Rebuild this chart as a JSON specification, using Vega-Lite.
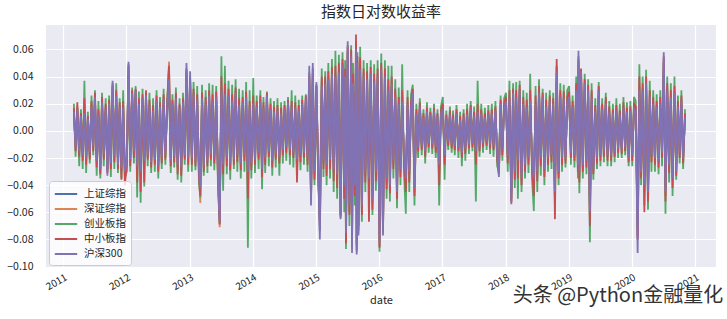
{
"$schema":"https://vega.github.io/schema/vega-lite/v6.json",
"width":670,"height":243,
"autosize":{"type":"none"},
"padding":{"left":46,"top":25,"right":11,"bottom":51},
"background":"white",
"config":{"font":"Noto Sans CJK SC","view":{"fill":"#EAEAF2","stroke":null},
"axis":{"grid":true,"gridColor":"#FFFFFF","gridWidth":1.2,"domain":false,"ticks":false,"tickSize":0,"labelColor":"#262626","titleColor":"#262626","labelFont":"Noto Sans CJK SC","titleFont":"Noto Sans CJK SC","titleFontWeight":"normal","labelOverlap":false}},
"title":{"text":"指数日对数收益率","fontSize":15,"fontWeight":"normal","color":"#262626","font":"Noto Sans CJK SC","offset":5},
"layer":[
{"data":{"values":[
{"d":"2011-03-03","a":0.012,"b":0.015,"c":0.02,"e":0.017,"f":0.014},
{"d":"2011-03-13","a":-0.01,"b":-0.013,"c":-0.019,"e":-0.015,"f":-0.012},
{"d":"2011-03-23","a":0.014,"b":0.017,"c":0.018,"e":0.021,"f":0.016},
{"d":"2011-04-03","a":-0.013,"b":-0.016,"c":-0.026,"e":-0.019,"f":-0.015},
{"d":"2011-04-13","a":0.009,"b":0.012,"c":0.016,"e":0.013,"f":0.011},
{"d":"2011-04-23","a":-0.015,"b":-0.019,"c":-0.028,"e":-0.022,"f":-0.018},
{"d":"2011-05-03","a":0.011,"b":0.02,"c":0.037,"e":0.024,"f":0.013},
{"d":"2011-05-13","a":-0.017,"b":-0.022,"c":-0.031,"e":-0.025,"f":-0.02},
{"d":"2011-05-23","a":0.008,"b":0.01,"c":0.014,"e":0.011,"f":0.009},
{"d":"2011-06-03","a":-0.014,"b":-0.018,"c":-0.024,"e":-0.021,"f":-0.016},
{"d":"2011-06-13","a":0.015,"b":0.02,"c":0.026,"e":0.022,"f":0.018},
{"d":"2011-06-23","a":-0.009,"b":-0.012,"c":-0.018,"e":-0.015,"f":-0.011},
{"d":"2011-07-03","a":0.021,"b":0.026,"c":0.03,"e":0.028,"f":0.025},
{"d":"2011-07-13","a":-0.019,"b":-0.024,"c":-0.033,"e":-0.027,"f":-0.022},
{"d":"2011-07-23","a":0.01,"b":0.014,"c":0.022,"e":0.016,"f":0.012},
{"d":"2011-08-03","a":-0.025,"b":-0.03,"c":-0.035,"e":-0.032,"f":-0.028},
{"d":"2011-08-13","a":0.018,"b":0.023,"c":0.028,"e":0.025,"f":0.021},
{"d":"2011-08-23","a":-0.015,"b":-0.019,"c":-0.026,"e":-0.021,"f":-0.017},
{"d":"2011-09-03","a":0.014,"b":0.018,"c":0.024,"e":0.02,"f":0.016},
{"d":"2011-09-13","a":-0.028,"b":-0.03,"c":-0.029,"e":-0.031,"f":-0.033},
{"d":"2011-09-23","a":0.017,"b":0.021,"c":0.026,"e":0.023,"f":0.02},
{"d":"2011-10-03","a":-0.021,"b":-0.026,"c":-0.034,"e":-0.028,"f":-0.024},
{"d":"2011-10-13","a":0.032,"b":0.034,"c":0.033,"e":0.035,"f":0.037},
{"d":"2011-10-23","a":-0.016,"b":-0.021,"c":-0.028,"e":-0.023,"f":-0.019},
{"d":"2011-11-03","a":0.022,"b":0.028,"c":0.035,"e":0.03,"f":0.026},
{"d":"2011-11-13","a":-0.021,"b":-0.026,"c":-0.031,"e":-0.028,"f":-0.025},
{"d":"2011-11-23","a":0.015,"b":0.019,"c":0.024,"e":0.021,"f":0.018},
{"d":"2011-12-03","a":-0.023,"b":-0.03,"c":-0.035,"e":-0.036,"f":-0.027},
{"d":"2011-12-13","a":0.014,"b":0.019,"c":0.03,"e":0.022,"f":0.017},
{"d":"2011-12-23","a":-0.026,"b":-0.033,"c":-0.034,"e":-0.04,"f":-0.03},
{"d":"2012-01-03","a":-0.019,"b":-0.023,"c":-0.03,"e":-0.026,"f":-0.022},
{"d":"2012-01-13","a":0.042,"b":0.048,"c":0.047,"e":0.049,"f":0.051},
{"d":"2012-01-23","a":-0.018,"b":-0.023,"c":-0.03,"e":-0.026,"f":-0.021},
{"d":"2012-02-03","a":0.024,"b":0.029,"c":0.032,"e":0.03,"f":0.028},
{"d":"2012-02-13","a":-0.013,"b":-0.017,"c":-0.024,"e":-0.02,"f":-0.015},
{"d":"2012-02-23","a":0.026,"b":0.03,"c":0.033,"e":0.031,"f":0.03},
{"d":"2012-03-03","a":-0.022,"b":-0.03,"c":-0.049,"e":-0.038,"f":-0.026},
{"d":"2012-03-13","a":0.017,"b":0.021,"c":0.029,"e":0.024,"f":0.02},
{"d":"2012-03-23","a":-0.026,"b":-0.034,"c":-0.053,"e":-0.045,"f":-0.03},
{"d":"2012-04-03","a":0.02,"b":0.025,"c":0.031,"e":0.027,"f":0.024},
{"d":"2012-04-13","a":-0.019,"b":-0.025,"c":-0.041,"e":-0.038,"f":-0.022},
{"d":"2012-04-23","a":0.022,"b":0.027,"c":0.028,"e":0.03,"f":0.026},
{"d":"2012-05-03","a":-0.015,"b":-0.019,"c":-0.026,"e":-0.021,"f":-0.018},
{"d":"2012-05-13","a":0.016,"b":0.02,"c":0.028,"e":0.023,"f":0.019},
{"d":"2012-05-23","a":-0.02,"b":-0.024,"c":-0.031,"e":-0.027,"f":-0.023},
{"d":"2012-06-03","a":0.013,"b":0.016,"c":0.024,"e":0.019,"f":0.015},
{"d":"2012-06-13","a":-0.018,"b":-0.022,"c":-0.03,"e":-0.025,"f":-0.021},
{"d":"2012-06-23","a":0.019,"b":0.023,"c":0.03,"e":0.026,"f":0.022},
{"d":"2012-07-03","a":-0.022,"b":-0.028,"c":-0.035,"e":-0.03,"f":-0.026},
{"d":"2012-07-13","a":0.015,"b":0.019,"c":0.025,"e":0.021,"f":0.018},
{"d":"2012-07-23","a":-0.017,"b":-0.021,"c":-0.028,"e":-0.024,"f":-0.02},
{"d":"2012-08-03","a":0.02,"b":0.025,"c":0.031,"e":0.027,"f":0.024},
{"d":"2012-08-13","a":-0.014,"b":-0.018,"c":-0.025,"e":-0.021,"f":-0.017},
{"d":"2012-08-23","a":0.013,"b":0.016,"c":0.022,"e":0.018,"f":0.015},
{"d":"2012-09-03","a":0.034,"b":0.051,"c":0.046,"e":0.048,"f":0.038},
{"d":"2012-09-13","a":-0.019,"b":-0.023,"c":-0.031,"e":-0.026,"f":-0.022},
{"d":"2012-09-23","a":0.017,"b":0.021,"c":0.027,"e":0.023,"f":0.02},
{"d":"2012-10-03","a":-0.016,"b":-0.02,"c":-0.027,"e":-0.023,"f":-0.019},
{"d":"2012-10-13","a":0.02,"b":0.025,"c":0.032,"e":0.028,"f":0.024},
{"d":"2012-10-23","a":-0.021,"b":-0.027,"c":-0.036,"e":-0.032,"f":-0.025},
{"d":"2012-11-03","a":0.014,"b":0.018,"c":0.024,"e":0.02,"f":0.017},
{"d":"2012-11-13","a":-0.023,"b":-0.029,"c":-0.038,"e":-0.033,"f":-0.027},
{"d":"2012-11-23","a":0.018,"b":0.022,"c":0.028,"e":0.024,"f":0.021},
{"d":"2012-12-03","a":-0.015,"b":-0.019,"c":-0.025,"e":-0.021,"f":-0.018},
{"d":"2012-12-13","a":0.043,"b":0.045,"c":0.044,"e":0.046,"f":0.05},
{"d":"2012-12-23","a":-0.017,"b":-0.021,"c":-0.03,"e":-0.025,"f":-0.02},
{"d":"2013-01-03","a":0.037,"b":0.039,"c":0.038,"e":0.04,"f":0.044},
{"d":"2013-01-13","a":-0.017,"b":-0.021,"c":-0.03,"e":-0.025,"f":-0.02},
{"d":"2013-01-23","a":0.023,"b":0.028,"c":0.036,"e":0.031,"f":0.027},
{"d":"2013-02-03","a":-0.019,"b":-0.023,"c":-0.029,"e":-0.026,"f":-0.022},
{"d":"2013-02-13","a":0.019,"b":0.024,"c":0.033,"e":0.027,"f":0.023},
{"d":"2013-02-23","a":-0.024,"b":-0.03,"c":-0.037,"e":-0.033,"f":-0.028},
{"d":"2013-03-03","a":-0.036,"b":-0.053,"c":-0.049,"e":-0.048,"f":-0.042},
{"d":"2013-03-13","a":0.02,"b":0.025,"c":0.034,"e":0.028,"f":0.024},
{"d":"2013-03-23","a":-0.022,"b":-0.027,"c":-0.033,"e":-0.03,"f":-0.026},
{"d":"2013-04-03","a":0.017,"b":0.021,"c":0.03,"e":0.025,"f":0.02},
{"d":"2013-04-13","a":-0.019,"b":-0.023,"c":-0.031,"e":-0.026,"f":-0.022},
{"d":"2013-04-23","a":0.022,"b":0.027,"c":0.035,"e":0.03,"f":0.026},
{"d":"2013-05-03","a":-0.014,"b":-0.018,"c":-0.026,"e":-0.021,"f":-0.017},
{"d":"2013-05-13","a":0.019,"b":0.023,"c":0.034,"e":0.027,"f":0.022},
{"d":"2013-05-23","a":-0.017,"b":-0.021,"c":-0.029,"e":-0.024,"f":-0.02},
{"d":"2013-06-03","a":0.021,"b":0.026,"c":0.033,"e":0.029,"f":0.025},
{"d":"2013-06-13","a":-0.027,"b":-0.033,"c":-0.04,"e":-0.036,"f":-0.031},
{"d":"2013-06-23","a":-0.053,"b":-0.071,"c":-0.068,"e":-0.069,"f":-0.067},
{"d":"2013-07-03","a":0.026,"b":0.032,"c":0.055,"e":0.04,"f":0.03},
{"d":"2013-07-13","a":-0.021,"b":-0.027,"c":-0.044,"e":-0.032,"f":-0.025},
{"d":"2013-07-23","a":0.023,"b":0.029,"c":0.048,"e":0.035,"f":0.027},
{"d":"2013-08-03","a":-0.017,"b":-0.021,"c":-0.032,"e":-0.026,"f":-0.02},
{"d":"2013-08-13","a":0.022,"b":0.027,"c":0.037,"e":0.031,"f":0.026},
{"d":"2013-08-23","a":-0.02,"b":-0.025,"c":-0.036,"e":-0.029,"f":-0.024},
{"d":"2013-09-03","a":0.019,"b":0.023,"c":0.034,"e":0.027,"f":0.022},
{"d":"2013-09-13","a":-0.018,"b":-0.022,"c":-0.028,"e":-0.025,"f":-0.021},
{"d":"2013-09-23","a":0.024,"b":0.029,"c":0.038,"e":0.032,"f":0.028},
{"d":"2013-10-03","a":-0.015,"b":-0.019,"c":-0.03,"e":-0.023,"f":-0.018},
{"d":"2013-10-13","a":0.016,"b":0.02,"c":0.031,"e":0.024,"f":0.019},
{"d":"2013-10-23","a":-0.02,"b":-0.025,"c":-0.035,"e":-0.029,"f":-0.024},
{"d":"2013-11-03","a":0.018,"b":0.022,"c":0.03,"e":0.025,"f":0.021},
{"d":"2013-11-13","a":-0.014,"b":-0.018,"c":-0.03,"e":-0.022,"f":-0.017},
{"d":"2013-11-23","a":0.021,"b":0.026,"c":0.036,"e":0.029,"f":0.025},
{"d":"2013-12-03","a":-0.025,"b":-0.036,"c":-0.086,"e":-0.05,"f":-0.03},
{"d":"2013-12-13","a":0.015,"b":0.019,"c":0.03,"e":0.022,"f":0.018},
{"d":"2013-12-23","a":-0.02,"b":-0.025,"c":-0.035,"e":-0.029,"f":-0.024},
{"d":"2014-01-03","a":0.017,"b":0.021,"c":0.039,"e":0.026,"f":0.02},
{"d":"2014-01-13","a":-0.018,"b":-0.022,"c":-0.031,"e":-0.025,"f":-0.021},
{"d":"2014-01-23","a":0.015,"b":0.019,"c":0.026,"e":0.022,"f":0.018},
{"d":"2014-02-03","a":-0.014,"b":-0.017,"c":-0.028,"e":-0.021,"f":-0.016},
{"d":"2014-02-13","a":0.019,"b":0.023,"c":0.03,"e":0.026,"f":0.022},
{"d":"2014-02-23","a":-0.024,"b":-0.03,"c":-0.043,"e":-0.034,"f":-0.028},
{"d":"2014-03-03","a":0.014,"b":0.018,"c":0.025,"e":0.021,"f":0.017},
{"d":"2014-03-13","a":-0.017,"b":-0.021,"c":-0.031,"e":-0.025,"f":-0.02},
{"d":"2014-03-23","a":0.022,"b":0.027,"c":0.029,"e":0.028,"f":0.026},
{"d":"2014-04-03","a":-0.013,"b":-0.016,"c":-0.026,"e":-0.019,"f":-0.015},
{"d":"2014-04-13","a":0.014,"b":0.017,"c":0.024,"e":0.02,"f":0.016},
{"d":"2014-04-23","a":-0.019,"b":-0.023,"c":-0.033,"e":-0.027,"f":-0.022},
{"d":"2014-05-03","a":0.012,"b":0.015,"c":0.022,"e":0.018,"f":0.014},
{"d":"2014-05-13","a":-0.014,"b":-0.018,"c":-0.027,"e":-0.021,"f":-0.017},
{"d":"2014-05-23","a":0.013,"b":0.016,"c":0.024,"e":0.019,"f":0.015},
{"d":"2014-06-03","a":-0.016,"b":-0.02,"c":-0.033,"e":-0.024,"f":-0.019},
{"d":"2014-06-13","a":0.011,"b":0.014,"c":0.021,"e":0.017,"f":0.013},
{"d":"2014-06-23","a":-0.012,"b":-0.015,"c":-0.024,"e":-0.018,"f":-0.014},
{"d":"2014-07-03","a":0.014,"b":0.017,"c":0.022,"e":0.019,"f":0.016},
{"d":"2014-07-13","a":-0.01,"b":-0.013,"c":-0.022,"e":-0.016,"f":-0.012},
{"d":"2014-07-23","a":0.018,"b":0.022,"c":0.025,"e":0.023,"f":0.021},
{"d":"2014-08-03","a":-0.012,"b":-0.015,"c":-0.025,"e":-0.018,"f":-0.014},
{"d":"2014-08-13","a":0.015,"b":0.019,"c":0.03,"e":0.022,"f":0.018},
{"d":"2014-08-23","a":-0.014,"b":-0.017,"c":-0.027,"e":-0.02,"f":-0.016},
{"d":"2014-09-03","a":0.014,"b":0.018,"c":0.026,"e":0.021,"f":0.017},
{"d":"2014-09-13","a":-0.018,"b":-0.024,"c":-0.032,"e":-0.038,"f":-0.021},
{"d":"2014-09-23","a":0.013,"b":0.016,"c":0.023,"e":0.019,"f":0.015},
{"d":"2014-10-03","a":-0.015,"b":-0.019,"c":-0.029,"e":-0.023,"f":-0.018},
{"d":"2014-10-13","a":0.017,"b":0.021,"c":0.026,"e":0.023,"f":0.02},
{"d":"2014-10-23","a":-0.014,"b":-0.017,"c":-0.025,"e":-0.02,"f":-0.016},
{"d":"2014-11-03","a":0.021,"b":0.025,"c":0.027,"e":0.026,"f":0.024},
{"d":"2014-11-13","a":-0.017,"b":-0.021,"c":-0.03,"e":-0.025,"f":-0.02},
{"d":"2014-11-23","a":0.043,"b":0.042,"c":0.036,"e":0.04,"f":0.048},
{"d":"2014-12-03","a":-0.051,"b":-0.052,"c":-0.047,"e":-0.05,"f":-0.055},
{"d":"2014-12-13","a":0.046,"b":0.044,"c":0.038,"e":0.042,"f":0.05},
{"d":"2014-12-23","a":-0.026,"b":-0.032,"c":-0.04,"e":-0.036,"f":-0.03},
{"d":"2015-01-03","a":0.033,"b":0.034,"c":0.033,"e":0.034,"f":0.036},
{"d":"2015-01-13","a":-0.022,"b":-0.027,"c":-0.036,"e":-0.03,"f":-0.025},
{"d":"2015-01-23","a":-0.074,"b":-0.07,"c":-0.062,"e":-0.066,"f":-0.08},
{"d":"2015-02-03","a":0.03,"b":0.036,"c":0.046,"e":0.04,"f":0.033},
{"d":"2015-02-13","a":-0.019,"b":-0.024,"c":-0.034,"e":-0.028,"f":-0.022},
{"d":"2015-02-23","a":0.031,"b":0.037,"c":0.044,"e":0.04,"f":0.035},
{"d":"2015-03-03","a":-0.022,"b":-0.028,"c":-0.04,"e":-0.033,"f":-0.025},
{"d":"2015-03-13","a":0.034,"b":0.04,"c":0.05,"e":0.044,"f":0.038},
{"d":"2015-03-23","a":-0.018,"b":-0.023,"c":-0.035,"e":-0.028,"f":-0.021},
{"d":"2015-04-03","a":0.038,"b":0.044,"c":0.053,"e":0.047,"f":0.042},
{"d":"2015-04-13","a":-0.025,"b":-0.031,"c":-0.045,"e":-0.037,"f":-0.028},
{"d":"2015-04-23","a":0.036,"b":0.043,"c":0.059,"e":0.048,"f":0.04},
{"d":"2015-05-03","a":-0.029,"b":-0.035,"c":-0.05,"e":-0.042,"f":-0.032},
{"d":"2015-05-13","a":0.039,"b":0.046,"c":0.056,"e":0.05,"f":0.043},
{"d":"2015-05-23","a":-0.062,"b":-0.064,"c":-0.062,"e":-0.063,"f":-0.065},
{"d":"2015-06-03","a":0.044,"b":0.05,"c":0.058,"e":0.053,"f":0.048},
{"d":"2015-06-13","a":-0.036,"b":-0.045,"c":-0.06,"e":-0.05,"f":-0.04},
{"d":"2015-06-18","a":0.036,"b":0.042,"c":0.052,"e":0.046,"f":0.04},
{"d":"2015-06-23","a":-0.07,"b":-0.08,"c":-0.087,"e":-0.083,"f":-0.075},
{"d":"2015-07-03","a":0.058,"b":0.062,"c":0.06,"e":0.063,"f":0.066},
{"d":"2015-07-13","a":-0.05,"b":-0.06,"c":-0.07,"e":-0.062,"f":-0.055},
{"d":"2015-07-23","a":0.05,"b":0.058,"c":0.063,"e":0.06,"f":0.055},
{"d":"2015-07-28","a":-0.085,"b":-0.087,"c":-0.082,"e":-0.085,"f":-0.09},
{"d":"2015-08-03","a":0.031,"b":0.038,"c":0.05,"e":0.042,"f":0.035},
{"d":"2015-08-13","a":-0.036,"b":-0.044,"c":-0.055,"e":-0.048,"f":-0.04},
{"d":"2015-08-20","a":0.055,"b":0.066,"c":0.065,"e":0.071,"f":0.06},
{"d":"2015-08-24","a":-0.083,"b":-0.089,"c":-0.085,"e":-0.088,"f":-0.091},
{"d":"2015-08-28","a":0.046,"b":0.052,"c":0.058,"e":0.055,"f":0.05},
{"d":"2015-09-03","a":-0.07,"b":-0.075,"c":-0.07,"e":-0.073,"f":-0.077},
{"d":"2015-09-13","a":0.04,"b":0.048,"c":0.062,"e":0.054,"f":0.045},
{"d":"2015-09-23","a":-0.05,"b":-0.058,"c":-0.067,"e":-0.062,"f":-0.055},
{"d":"2015-10-03","a":0.036,"b":0.043,"c":0.052,"e":0.046,"f":0.04},
{"d":"2015-10-13","a":-0.027,"b":-0.033,"c":-0.045,"e":-0.038,"f":-0.03},
{"d":"2015-10-23","a":0.034,"b":0.04,"c":0.05,"e":0.044,"f":0.038},
{"d":"2015-11-03","a":-0.031,"b":-0.04,"c":-0.05,"e":-0.067,"f":-0.035},
{"d":"2015-11-13","a":0.038,"b":0.044,"c":0.052,"e":0.047,"f":0.042},
{"d":"2015-11-23","a":-0.046,"b":-0.054,"c":-0.062,"e":-0.058,"f":-0.05},
{"d":"2015-12-03","a":0.032,"b":0.038,"c":0.049,"e":0.042,"f":0.036},
{"d":"2015-12-13","a":-0.027,"b":-0.032,"c":-0.044,"e":-0.037,"f":-0.03},
{"d":"2015-12-23","a":0.036,"b":0.042,"c":0.052,"e":0.046,"f":0.04},
{"d":"2016-01-03","a":-0.075,"b":-0.085,"c":-0.089,"e":-0.086,"f":-0.082},
{"d":"2016-01-13","a":0.04,"b":0.047,"c":0.057,"e":0.05,"f":0.045},
{"d":"2016-01-23","a":-0.07,"b":-0.075,"c":-0.072,"e":-0.074,"f":-0.077},
{"d":"2016-02-03","a":0.036,"b":0.042,"c":0.052,"e":0.046,"f":0.04},
{"d":"2016-02-13","a":-0.031,"b":-0.038,"c":-0.05,"e":-0.043,"f":-0.035},
{"d":"2016-02-23","a":0.027,"b":0.033,"c":0.048,"e":0.038,"f":0.03},
{"d":"2016-03-03","a":-0.036,"b":-0.042,"c":-0.052,"e":-0.046,"f":-0.04},
{"d":"2016-03-13","a":0.031,"b":0.037,"c":0.048,"e":0.04,"f":0.035},
{"d":"2016-03-23","a":-0.019,"b":-0.024,"c":-0.035,"e":-0.028,"f":-0.022},
{"d":"2016-04-03","a":0.022,"b":0.027,"c":0.038,"e":0.031,"f":0.025},
{"d":"2016-04-13","a":-0.04,"b":-0.047,"c":-0.057,"e":-0.05,"f":-0.045},
{"d":"2016-04-23","a":0.017,"b":0.021,"c":0.032,"e":0.025,"f":0.02},
{"d":"2016-05-03","a":-0.025,"b":-0.03,"c":-0.04,"e":-0.034,"f":-0.028},
{"d":"2016-05-13","a":0.019,"b":0.024,"c":0.049,"e":0.03,"f":0.022},
{"d":"2016-05-23","a":-0.015,"b":-0.019,"c":-0.03,"e":-0.023,"f":-0.018},
{"d":"2016-06-03","a":-0.031,"b":-0.038,"c":-0.061,"e":-0.045,"f":-0.035},
{"d":"2016-06-13","a":0.017,"b":0.021,"c":0.03,"e":0.025,"f":0.02},
{"d":"2016-06-23","a":-0.026,"b":-0.032,"c":-0.045,"e":-0.038,"f":-0.03},
{"d":"2016-07-03","a":0.014,"b":0.018,"c":0.027,"e":0.021,"f":0.017},
{"d":"2016-07-13","a":0.024,"b":0.029,"c":0.034,"e":0.031,"f":0.028},
{"d":"2016-07-23","a":-0.037,"b":-0.045,"c":-0.055,"e":-0.048,"f":-0.042},
{"d":"2016-08-03","a":0.011,"b":0.014,"c":0.02,"e":0.016,"f":0.013},
{"d":"2016-08-13","a":-0.01,"b":-0.013,"c":-0.02,"e":-0.015,"f":-0.012},
{"d":"2016-08-23","a":0.015,"b":0.019,"c":0.024,"e":0.021,"f":0.018},
{"d":"2016-09-03","a":-0.009,"b":-0.012,"c":-0.018,"e":-0.014,"f":-0.011},
{"d":"2016-09-13","a":0.008,"b":0.011,"c":0.016,"e":0.013,"f":0.01},
{"d":"2016-09-23","a":-0.013,"b":-0.016,"c":-0.024,"e":-0.019,"f":-0.015},
{"d":"2016-10-03","a":0.012,"b":0.015,"c":0.021,"e":0.017,"f":0.014},
{"d":"2016-10-13","a":-0.008,"b":-0.01,"c":-0.016,"e":-0.012,"f":-0.009},
{"d":"2016-10-23","a":0.01,"b":0.013,"c":0.017,"e":0.014,"f":0.012},
{"d":"2016-11-03","a":-0.008,"b":-0.011,"c":-0.017,"e":-0.013,"f":-0.01},
{"d":"2016-11-13","a":0.013,"b":0.016,"c":0.02,"e":0.017,"f":0.015},
{"d":"2016-11-23","a":-0.01,"b":-0.013,"c":-0.02,"e":-0.016,"f":-0.012},
{"d":"2016-12-03","a":0.009,"b":0.012,"c":0.016,"e":0.013,"f":0.011},
{"d":"2016-12-13","a":-0.021,"b":-0.03,"c":-0.055,"e":-0.04,"f":-0.025},
{"d":"2016-12-23","a":0.01,"b":0.013,"c":0.018,"e":0.015,"f":0.012},
{"d":"2017-01-03","a":0.014,"b":0.017,"c":0.025,"e":0.02,"f":0.016},
{"d":"2017-01-13","a":-0.015,"b":-0.02,"c":-0.036,"e":-0.025,"f":-0.018},
{"d":"2017-01-23","a":0.008,"b":0.011,"c":0.015,"e":0.012,"f":0.01},
{"d":"2017-02-03","a":-0.007,"b":-0.009,"c":-0.014,"e":-0.011,"f":-0.008},
{"d":"2017-02-13","a":0.01,"b":0.013,"c":0.018,"e":0.015,"f":0.012},
{"d":"2017-02-23","a":-0.008,"b":-0.011,"c":-0.016,"e":-0.013,"f":-0.01},
{"d":"2017-03-03","a":0.008,"b":0.01,"c":0.015,"e":0.012,"f":0.009},
{"d":"2017-03-13","a":-0.009,"b":-0.012,"c":-0.018,"e":-0.014,"f":-0.011},
{"d":"2017-03-23","a":0.011,"b":0.014,"c":0.019,"e":0.016,"f":0.013},
{"d":"2017-04-03","a":-0.01,"b":-0.013,"c":-0.02,"e":-0.015,"f":-0.012},
{"d":"2017-04-13","a":0.007,"b":0.009,"c":0.014,"e":0.011,"f":0.008},
{"d":"2017-04-23","a":-0.014,"b":-0.017,"c":-0.026,"e":-0.02,"f":-0.016},
{"d":"2017-05-03","a":0.008,"b":0.011,"c":0.016,"e":0.013,"f":0.01},
{"d":"2017-05-13","a":-0.011,"b":-0.014,"c":-0.022,"e":-0.017,"f":-0.013},
{"d":"2017-05-23","a":0.01,"b":0.013,"c":0.02,"e":0.016,"f":0.012},
{"d":"2017-06-03","a":-0.008,"b":-0.011,"c":-0.017,"e":-0.013,"f":-0.01},
{"d":"2017-06-13","a":0.014,"b":0.017,"c":0.022,"e":0.019,"f":0.016},
{"d":"2017-06-23","a":-0.008,"b":-0.01,"c":-0.015,"e":-0.012,"f":-0.009},
{"d":"2017-07-03","a":0.009,"b":0.012,"c":0.018,"e":0.014,"f":0.011},
{"d":"2017-07-13","a":-0.013,"b":-0.018,"c":-0.052,"e":-0.025,"f":-0.015},
{"d":"2017-07-23","a":0.012,"b":0.016,"c":0.037,"e":0.02,"f":0.014},
{"d":"2017-08-03","a":-0.01,"b":-0.013,"c":-0.019,"e":-0.015,"f":-0.012},
{"d":"2017-08-13","a":0.011,"b":0.014,"c":0.02,"e":0.016,"f":0.013},
{"d":"2017-08-23","a":-0.008,"b":-0.01,"c":-0.016,"e":-0.012,"f":-0.009},
{"d":"2017-09-03","a":0.008,"b":0.011,"c":0.017,"e":0.013,"f":0.01},
{"d":"2017-09-13","a":-0.007,"b":-0.009,"c":-0.014,"e":-0.011,"f":-0.008},
{"d":"2017-09-23","a":0.01,"b":0.013,"c":0.019,"e":0.015,"f":0.012},
{"d":"2017-10-03","a":-0.008,"b":-0.011,"c":-0.017,"e":-0.013,"f":-0.01},
{"d":"2017-10-13","a":0.011,"b":0.014,"c":0.02,"e":0.016,"f":0.013},
{"d":"2017-10-23","a":-0.009,"b":-0.012,"c":-0.019,"e":-0.014,"f":-0.011},
{"d":"2017-11-03","a":0.013,"b":0.016,"c":0.022,"e":0.018,"f":0.015},
{"d":"2017-11-13","a":-0.014,"b":-0.018,"c":-0.026,"e":-0.021,"f":-0.017},
{"d":"2017-11-23","a":-0.025,"b":-0.031,"c":-0.03,"e":-0.032,"f":-0.034},
{"d":"2017-12-03","a":0.017,"b":0.021,"c":0.026,"e":0.023,"f":0.02},
{"d":"2017-12-13","a":-0.012,"b":-0.015,"c":-0.022,"e":-0.018,"f":-0.014},
{"d":"2017-12-23","a":0.013,"b":0.017,"c":0.024,"e":0.02,"f":0.016},
{"d":"2018-01-03","a":0.018,"b":0.023,"c":0.028,"e":0.025,"f":0.022},
{"d":"2018-01-13","a":-0.016,"b":-0.02,"c":-0.03,"e":-0.024,"f":-0.019},
{"d":"2018-01-23","a":0.02,"b":0.025,"c":0.037,"e":0.03,"f":0.024},
{"d":"2018-02-03","a":-0.045,"b":-0.053,"c":-0.05,"e":-0.052,"f":-0.054},
{"d":"2018-02-13","a":0.024,"b":0.029,"c":0.035,"e":0.031,"f":0.028},
{"d":"2018-02-23","a":-0.026,"b":-0.032,"c":-0.042,"e":-0.036,"f":-0.03},
{"d":"2018-03-03","a":0.021,"b":0.026,"c":0.036,"e":0.03,"f":0.025},
{"d":"2018-03-13","a":-0.019,"b":-0.025,"c":-0.05,"e":-0.035,"f":-0.022},
{"d":"2018-03-23","a":0.026,"b":0.031,"c":0.037,"e":0.034,"f":0.03},
{"d":"2018-04-03","a":-0.03,"b":-0.037,"c":-0.045,"e":-0.04,"f":-0.035},
{"d":"2018-04-13","a":0.017,"b":0.021,"c":0.03,"e":0.025,"f":0.02},
{"d":"2018-04-23","a":-0.021,"b":-0.027,"c":-0.035,"e":-0.03,"f":-0.025},
{"d":"2018-05-03","a":0.015,"b":0.019,"c":0.028,"e":0.023,"f":0.018},
{"d":"2018-05-13","a":-0.017,"b":-0.021,"c":-0.031,"e":-0.025,"f":-0.02},
{"d":"2018-05-23","a":0.018,"b":0.023,"c":0.042,"e":0.03,"f":0.022},
{"d":"2018-06-03","a":-0.021,"b":-0.026,"c":-0.036,"e":-0.03,"f":-0.024},
{"d":"2018-06-13","a":-0.03,"b":-0.04,"c":-0.059,"e":-0.048,"f":-0.035},
{"d":"2018-06-23","a":0.017,"b":0.021,"c":0.033,"e":0.026,"f":0.02},
{"d":"2018-07-03","a":-0.026,"b":-0.032,"c":-0.045,"e":-0.037,"f":-0.03},
{"d":"2018-07-13","a":0.024,"b":0.03,"c":0.038,"e":0.033,"f":0.028},
{"d":"2018-07-23","a":-0.017,"b":-0.022,"c":-0.033,"e":-0.026,"f":-0.02},
{"d":"2018-08-03","a":0.021,"b":0.026,"c":0.031,"e":0.028,"f":0.025},
{"d":"2018-08-13","a":-0.024,"b":-0.03,"c":-0.04,"e":-0.034,"f":-0.028},
{"d":"2018-08-23","a":0.015,"b":0.019,"c":0.028,"e":0.023,"f":0.018},
{"d":"2018-09-03","a":-0.017,"b":-0.021,"c":-0.03,"e":-0.025,"f":-0.02},
{"d":"2018-09-13","a":0.019,"b":0.023,"c":0.03,"e":0.026,"f":0.022},
{"d":"2018-09-23","a":-0.015,"b":-0.019,"c":-0.028,"e":-0.023,"f":-0.018},
{"d":"2018-10-03","a":0.017,"b":0.021,"c":0.028,"e":0.024,"f":0.02},
{"d":"2018-10-13","a":-0.04,"b":-0.05,"c":-0.055,"e":-0.065,"f":-0.045},
{"d":"2018-10-23","a":0.037,"b":0.047,"c":0.048,"e":0.053,"f":0.043},
{"d":"2018-11-03","a":-0.026,"b":-0.032,"c":-0.04,"e":-0.035,"f":-0.03},
{"d":"2018-11-13","a":0.021,"b":0.027,"c":0.035,"e":0.03,"f":0.025},
{"d":"2018-11-23","a":-0.017,"b":-0.021,"c":-0.03,"e":-0.025,"f":-0.02},
{"d":"2018-12-03","a":0.02,"b":0.025,"c":0.034,"e":0.029,"f":0.024},
{"d":"2018-12-13","a":-0.017,"b":-0.021,"c":-0.027,"e":-0.024,"f":-0.02},
{"d":"2018-12-23","a":0.017,"b":0.021,"c":0.03,"e":0.025,"f":0.02},
{"d":"2019-01-03","a":0.021,"b":0.026,"c":0.033,"e":0.029,"f":0.025},
{"d":"2019-01-13","a":-0.013,"b":-0.017,"c":-0.025,"e":-0.02,"f":-0.016},
{"d":"2019-01-23","a":0.015,"b":0.019,"c":0.026,"e":0.022,"f":0.018},
{"d":"2019-02-03","a":-0.015,"b":-0.019,"c":-0.027,"e":-0.022,"f":-0.018},
{"d":"2019-02-13","a":0.026,"b":0.032,"c":0.04,"e":0.035,"f":0.03},
{"d":"2019-02-23","a":-0.021,"b":-0.027,"c":-0.035,"e":-0.03,"f":-0.025},
{"d":"2019-02-26","a":0.052,"b":0.053,"c":0.05,"e":0.055,"f":0.059},
{"d":"2019-03-03","a":-0.026,"b":-0.033,"c":-0.046,"e":-0.038,"f":-0.03},
{"d":"2019-03-13","a":0.038,"b":0.045,"c":0.043,"e":0.046,"f":0.044},
{"d":"2019-03-23","a":-0.021,"b":-0.027,"c":-0.035,"e":-0.03,"f":-0.025},
{"d":"2019-04-03","a":0.03,"b":0.036,"c":0.042,"e":0.038,"f":0.035},
{"d":"2019-04-13","a":-0.019,"b":-0.023,"c":-0.032,"e":-0.027,"f":-0.022},
{"d":"2019-04-23","a":0.026,"b":0.031,"c":0.038,"e":0.034,"f":0.03},
{"d":"2019-05-03","a":-0.054,"b":-0.065,"c":-0.082,"e":-0.07,"f":-0.06},
{"d":"2019-05-13","a":0.021,"b":0.027,"c":0.035,"e":0.03,"f":0.025},
{"d":"2019-05-23","a":-0.024,"b":-0.03,"c":-0.036,"e":-0.032,"f":-0.028},
{"d":"2019-06-03","a":0.013,"b":0.016,"c":0.024,"e":0.019,"f":0.015},
{"d":"2019-06-13","a":-0.017,"b":-0.021,"c":-0.028,"e":-0.024,"f":-0.02},
{"d":"2019-06-23","a":0.026,"b":0.031,"c":0.036,"e":0.033,"f":0.03},
{"d":"2019-07-03","a":-0.015,"b":-0.019,"c":-0.026,"e":-0.022,"f":-0.018},
{"d":"2019-07-13","a":0.013,"b":0.017,"c":0.024,"e":0.02,"f":0.016},
{"d":"2019-07-23","a":-0.013,"b":-0.016,"c":-0.023,"e":-0.019,"f":-0.015},
{"d":"2019-08-03","a":0.018,"b":0.022,"c":0.028,"e":0.025,"f":0.02},
{"d":"2019-08-13","a":-0.015,"b":-0.019,"c":-0.026,"e":-0.022,"f":-0.018},
{"d":"2019-08-23","a":0.012,"b":0.015,"c":0.022,"e":0.018,"f":0.014},
{"d":"2019-09-03","a":-0.015,"b":-0.019,"c":-0.026,"e":-0.022,"f":-0.018},
{"d":"2019-09-13","a":0.011,"b":0.014,"c":0.02,"e":0.016,"f":0.013},
{"d":"2019-09-23","a":-0.014,"b":-0.017,"c":-0.023,"e":-0.019,"f":-0.016},
{"d":"2019-10-03","a":0.013,"b":0.016,"c":0.024,"e":0.019,"f":0.015},
{"d":"2019-10-13","a":-0.011,"b":-0.014,"c":-0.02,"e":-0.016,"f":-0.013},
{"d":"2019-10-23","a":0.01,"b":0.013,"c":0.02,"e":0.015,"f":0.012},
{"d":"2019-11-03","a":-0.012,"b":-0.015,"c":-0.02,"e":-0.017,"f":-0.014},
{"d":"2019-11-13","a":0.014,"b":0.018,"c":0.025,"e":0.021,"f":0.017},
{"d":"2019-11-23","a":-0.01,"b":-0.013,"c":-0.018,"e":-0.015,"f":-0.012},
{"d":"2019-12-03","a":0.012,"b":0.015,"c":0.021,"e":0.017,"f":0.014},
{"d":"2019-12-13","a":-0.017,"b":-0.021,"c":-0.026,"e":-0.023,"f":-0.02},
{"d":"2019-12-23","a":0.013,"b":0.016,"c":0.022,"e":0.018,"f":0.015},
{"d":"2020-01-03","a":-0.015,"b":-0.019,"c":-0.026,"e":-0.022,"f":-0.018},
{"d":"2020-01-13","a":0.013,"b":0.017,"c":0.025,"e":0.02,"f":0.016},
{"d":"2020-01-23","a":0.013,"b":0.016,"c":0.022,"e":0.018,"f":0.015},
{"d":"2020-02-03","a":-0.08,"b":-0.08,"c":-0.069,"e":-0.078,"f":-0.09},
{"d":"2020-02-13","a":0.026,"b":0.034,"c":0.049,"e":0.04,"f":0.03},
{"d":"2020-02-23","a":-0.026,"b":-0.032,"c":-0.04,"e":-0.035,"f":-0.03},
{"d":"2020-03-03","a":0.026,"b":0.032,"c":0.04,"e":0.035,"f":0.03},
{"d":"2020-03-13","a":-0.035,"b":-0.045,"c":-0.055,"e":-0.06,"f":-0.04},
{"d":"2020-03-23","a":0.031,"b":0.037,"c":0.045,"e":0.04,"f":0.035},
{"d":"2020-04-03","a":-0.04,"b":-0.048,"c":-0.058,"e":-0.052,"f":-0.045},
{"d":"2020-04-13","a":0.021,"b":0.026,"c":0.037,"e":0.03,"f":0.025},
{"d":"2020-04-23","a":-0.015,"b":-0.019,"c":-0.03,"e":-0.023,"f":-0.018},
{"d":"2020-05-03","a":0.017,"b":0.021,"c":0.03,"e":0.025,"f":0.02},
{"d":"2020-05-13","a":-0.017,"b":-0.021,"c":-0.03,"e":-0.025,"f":-0.02},
{"d":"2020-05-23","a":0.015,"b":0.019,"c":0.027,"e":0.022,"f":0.018},
{"d":"2020-06-03","a":-0.019,"b":-0.023,"c":-0.032,"e":-0.027,"f":-0.022},
{"d":"2020-06-13","a":0.017,"b":0.021,"c":0.03,"e":0.025,"f":0.02},
{"d":"2020-06-23","a":-0.014,"b":-0.017,"c":-0.026,"e":-0.02,"f":-0.016},
{"d":"2020-07-03","a":0.05,"b":0.054,"c":0.052,"e":0.055,"f":0.058},
{"d":"2020-07-13","a":-0.04,"b":-0.048,"c":-0.061,"e":-0.052,"f":-0.045},
{"d":"2020-07-23","a":0.026,"b":0.032,"c":0.04,"e":0.035,"f":0.03},
{"d":"2020-08-03","a":-0.022,"b":-0.027,"c":-0.038,"e":-0.031,"f":-0.025},
{"d":"2020-08-13","a":0.021,"b":0.026,"c":0.035,"e":0.03,"f":0.025},
{"d":"2020-08-23","a":-0.03,"b":-0.037,"c":-0.048,"e":-0.042,"f":-0.035},
{"d":"2020-09-03","a":0.024,"b":0.029,"c":0.04,"e":0.033,"f":0.028},
{"d":"2020-09-13","a":-0.026,"b":-0.031,"c":-0.036,"e":-0.033,"f":-0.03},
{"d":"2020-09-23","a":0.015,"b":0.019,"c":0.026,"e":0.022,"f":0.018},
{"d":"2020-10-03","a":-0.014,"b":-0.017,"c":-0.024,"e":-0.02,"f":-0.016},
{"d":"2020-10-13","a":0.019,"b":0.023,"c":0.03,"e":0.026,"f":0.022},
{"d":"2020-10-23","a":-0.017,"b":-0.021,"c":-0.028,"e":-0.024,"f":-0.02},
{"d":"2020-11-03","a":0.009,"b":0.011,"c":0.016,"e":0.013,"f":0.01}
]},
"transform":[{"fold":["a","b","c","e","f"],"as":["s","v"]}],
"mark":{"type":"line","strokeWidth":1.8,"clip":true},
"encoding":{
"x":{"field":"d","type":"temporal","scale":{"domain":["2010-09-23","2021-05-01"]},
"axis":{"title":"date","tickCount":{"interval":"year","step":1},"format":"%Y","labelAngle":-30,"labelAlign":"right","labelBaseline":"top","labelFontSize":10,"labelPadding":4,"titleFontSize":11,"titlePadding":3}},
"y":{"field":"v","type":"quantitative","scale":{"domain":[-0.101,0.078],"nice":false,"zero":false},
"axis":{"title":null,"values":[-0.1,-0.08,-0.06,-0.04,-0.02,0,0.02,0.04,0.06],"tickCount":12,"labelOverlap":false,"format":".2f","labelFontSize":10.5,"labelPadding":13}},
"color":{"field":"s","type":"nominal","scale":{"domain":["a","b","c","e","f"],"range":["#4C72B0","#DD8452","#55A868","#C44E52","#8172B3"]},
"legend":{"title":null,"orient":"bottom-left","offset":3,"fillColor":"rgba(255,255,255,0.8)","strokeColor":"#cccccc","cornerRadius":3,"padding":5,"symbolType":"M-1.6,0H1.6","symbolSize":196,"symbolOffset":4,"symbolStrokeWidth":2,"labelFontSize":10.5,"labelColor":"#262626","labelOffset":10,"rowPadding":1,
"labelExpr":"{'a':'上证综指','b':'深证综指','c':'创业板指','e':'中小板指','f':'沪深300'}[datum.label]"}}
}},
{"data":{"values":[{"t":"头条 @Python金融量化"}]},
"mark":{"type":"text","fontSize":20,"color":"#333333","align":"center","baseline":"middle","font":"Noto Sans CJK SC"},
"encoding":{"x":{"datum":{"year":2019,"month":10,"date":12},"type":"temporal"},"y":{"datum":-0.1218,"type":"quantitative"},"text":{"field":"t"}}}
]
}
